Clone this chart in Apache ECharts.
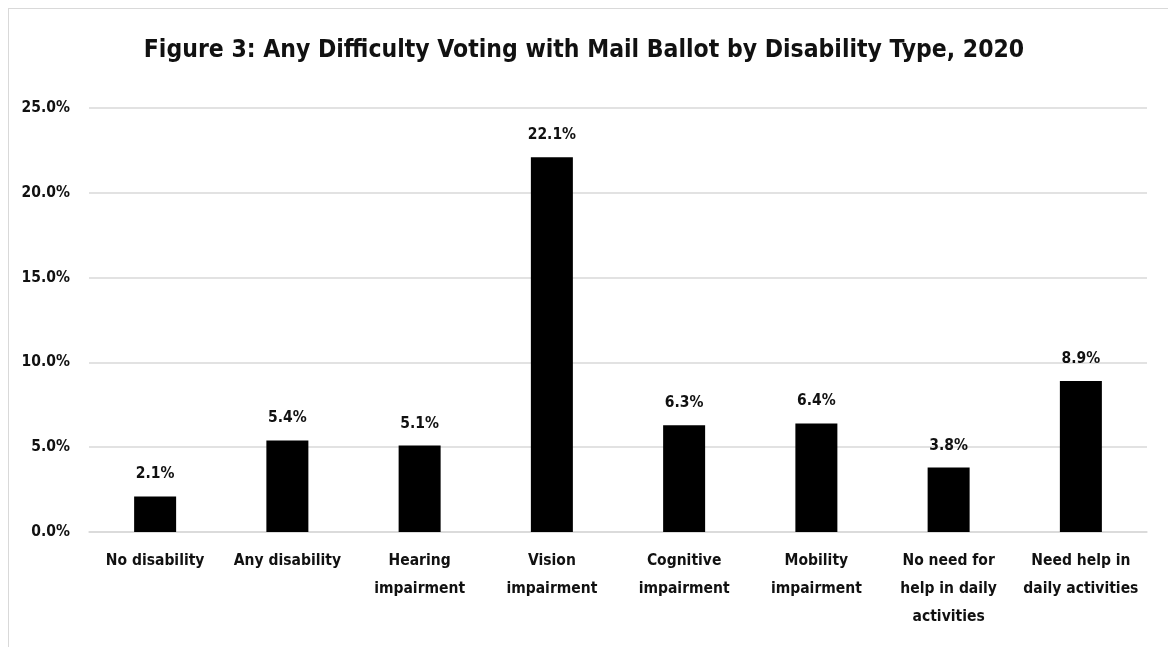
<!DOCTYPE html>
<html>
<head>
<meta charset="utf-8">
<script src="https://cdn.jsdelivr.net/npm/echarts@6/dist/echarts.min.js"></script>
<style>
  html, body { margin: 0; padding: 0; background: #fff; }
  #frame { position: absolute; left: 8px; top: 8px; width: 1160px; height: 639px;
           border-left: 1px solid #d9d9d9; border-top: 1px solid #d9d9d9; }
  #chart { position: absolute; left: 0; top: 0; width: 1168px; height: 647px; }
</style>
</head>
<body>
<div id="frame"></div>
<div id="chart"></div>
<script>
const categories = [
  'No disability', 'Any disability', 'Hearing\nimpairment', 'Vision\nimpairment',
  'Cognitive\nimpairment', 'Mobility\nimpairment', 'No need for\nhelp in daily\nactivities',
  'Need help in\ndaily activities'
];
const values = [2.1, 5.4, 5.1, 22.1, 6.3, 6.4, 3.8, 8.9];
const yTicks = [0, 5, 10, 15, 20, 25];

const FONT = '"DejaVu Sans Condensed", "Liberation Sans Narrow", sans-serif';
const labelText = { fontFamily: FONT, fontSize: 15.5, fontWeight: 'bold', color: '#111' };

const chart = echarts.init(document.getElementById('chart'), null, { renderer: 'canvas' });
chart.setOption({
  backgroundColor: 'transparent',
  animation: false,
  title: {
    text: 'Figure 3: Any Difficulty Voting with Mail Ballot by Disability Type, 2020',
    left: 'center',
    top: 33,
    textStyle: { fontFamily: FONT, fontSize: 24.5, fontWeight: 'bold', color: '#111' }
  },
  grid: { left: 89, right: 21, top: 108, bottom: 115, containLabel: false },
  xAxis: {
    type: 'category',
    data: categories,
    axisLine: { show: true, lineStyle: { color: '#d9d9d9', width: 1.5 } },
    axisTick: { show: false },
    axisLabel: Object.assign({ interval: 0, margin: 15, lineHeight: 28 }, labelText)
  },
  yAxis: {
    type: 'value',
    min: yTicks[0], max: yTicks[yTicks.length - 1], interval: 5,
    axisLine: { show: false },
    axisTick: { show: false },
    splitLine: { lineStyle: { color: '#d9d9d9', width: 1.5 } },
    axisLabel: Object.assign({ margin: 19, formatter: v => v.toFixed(1) + '%' }, labelText)
  },
  series: [{
    type: 'bar',
    data: values,
    barWidth: 42,
    itemStyle: { color: '#000' },
    label: Object.assign({
      show: true, position: 'top', distance: 14,
      formatter: p => p.value.toFixed(1) + '%'
    }, labelText)
  }]
});
</script>
</body>
</html>
